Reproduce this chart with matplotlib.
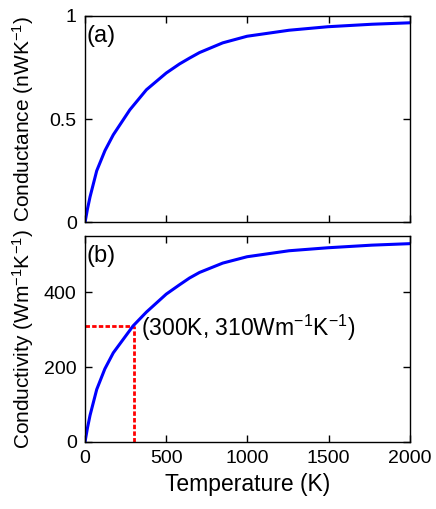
import numpy as np
import matplotlib
matplotlib.use("Agg")
import matplotlib.pyplot as plt

plt.rcParams['font.family'] = ['Liberation Sans', 'DejaVu Sans']
plt.rcParams['mathtext.default'] = 'regular'

# (a) conductance, nW/K
temp_a = [0, 15, 31, 72, 123, 174, 276, 378, 500, 582, 643, 705, 848, 998, 1256, 1495, 1766, 2000]
cond_a = [0, 0.065, 0.124, 0.250, 0.348, 0.424, 0.545, 0.642, 0.723, 0.767, 0.795, 0.822, 0.869, 0.901, 0.930, 0.947, 0.959, 0.966]

# (b) conductivity, W/m/K
temp_b = [0, 15, 31, 72, 122, 174, 296, 378, 500, 582, 643, 705, 848, 998, 1256, 1495, 1766, 2000]
cond_b = [0, 37, 71, 140, 195, 238, 310, 347, 395, 420, 438, 453, 478, 495, 511, 519, 526, 530]

mark_t = 300
mark_k = 310

fig = plt.figure(figsize=(4.36, 5.09), dpi=100)
ax1 = fig.add_axes([0.195, 0.563, 0.745, 0.406])
ax2 = fig.add_axes([0.195, 0.132, 0.745, 0.404])

tick_fs = 14
lab_fs = 15
for ax in (ax1, ax2):
    ax.tick_params(direction='in', top=True, right=True, length=5, width=1,
                   labelsize=tick_fs, pad=6)
    ax.set_xlim(0, 2000)
    ax.set_xticks([0, 500, 1000, 1500, 2000])
    for s in ax.spines.values():
        s.set_linewidth(1)

ax1.plot(temp_a, cond_a, color='#0000ff', lw=2.2)
ax1.set_ylim(0, 1)
ax1.set_yticks([0, 0.5, 1])
ax1.set_yticklabels(['0', '0.5', '1'])
ax1.tick_params(labelbottom=False)
ax1.set_ylabel('Conductance (nWK$^{-1}$)', fontsize=lab_fs)
ax1.text(0.006, 0.955, '(a)', transform=ax1.transAxes, fontsize=17, va='top', ha='left')

ax2.plot([0, mark_t], [mark_k, mark_k], color='#ff0000', lw=2, dashes=(1.6, 0.8))
ax2.plot([mark_t, mark_t], [0, mark_k], color='#ff0000', lw=2, dashes=(1.6, 0.8))
ax2.plot(temp_b, cond_b, color='#0000ff', lw=2.2)
ax2.set_ylim(0, 550)
ax2.set_yticks([0, 200, 400])
ax2.set_ylabel('Conductivity (Wm$^{-1}$K$^{-1}$)', fontsize=lab_fs)
ax2.set_xlabel('Temperature (K)', fontsize=16.5, labelpad=4)
ax2.text(0.006, 0.955, '(b)', transform=ax2.transAxes, fontsize=17, va='top', ha='left')
ax2.text(345, 305, '(300K, 310Wm$^{-1}$K$^{-1}$)', fontsize=16.5, va='center', ha='left')

ax1.yaxis.set_label_coords(-0.15, 0.5)
ax2.yaxis.set_label_coords(-0.15, 0.5)

fig.savefig('out.png', dpi=100)
